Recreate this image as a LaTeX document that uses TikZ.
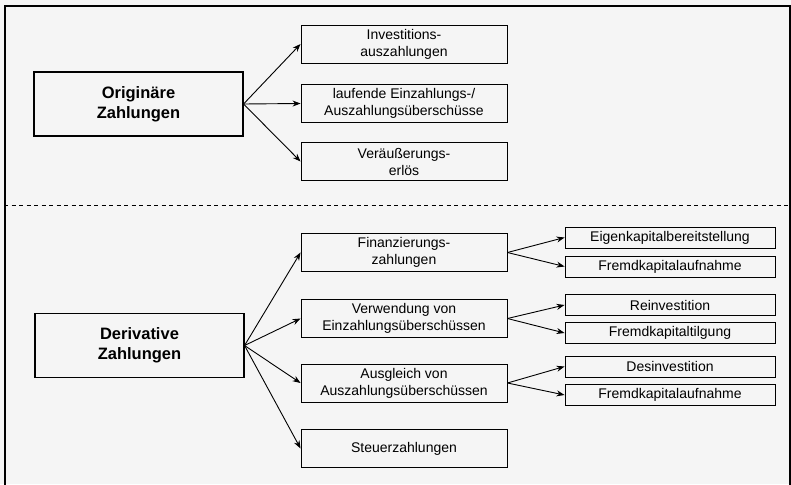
\documentclass[tikz,border=0pt]{standalone}
\usepackage{fontspec}
\setmainfont{Liberation Sans}
\usetikzlibrary{arrows.meta, positioning}

\begin{document}
\begin{tikzpicture}[x=1pt, y=-1pt, line width=0.9pt, >={Stealth[length=8pt,width=6pt]},
    mainbox/.style={draw, line width=1.1pt, minimum width=209pt, minimum height=64pt, align=center, font=\fontsize{16.5}{20}\selectfont\bfseries},
    midbox/.style={draw, minimum width=206pt, minimum height=38pt, inner sep=1pt, align=center, font=\fontsize{14}{17}\selectfont},
    subbox/.style={draw, minimum width=210pt, minimum height=21pt, inner sep=0pt, font=\fontsize{14}{16}\selectfont}]
    \useasboundingbox (0,0) rectangle (791,484);
    \fill[black!4] (0,0) rectangle (791,484);
    \draw[line width=1.2pt] (5,492) -- (5,6) -- (790,6) -- (790,492);
    \draw[dash pattern=on 4pt off 3.5pt] (4,205) -- (791,205);

    % originaere Zahlungen
    \node[mainbox] (orig) at (138.5,104) {Originäre\\Zahlungen};
    \node[midbox] (inv) at (404,44) {Investitions-\\auszahlungen};
    \node[midbox] (lauf) at (404,103.5) {laufende Einzahlungs-/\\Auszahlungsüberschüsse};
    \node[midbox] (veraeus) at (404,161.5) {Veräußerungs-\\erlös};
    \draw[->] (orig.east) -- (inv.west);
    \draw[->] (orig.east) -- (lauf.west);
    \draw[->] (orig.east) -- (veraeus.west);

    % derivative Zahlungen
    \node[mainbox] (deriv) at (139.5,345.5) {Derivative\\Zahlungen};
    \node[midbox] (fin) at (404,252.5) {Finanzierungs-\\zahlungen};
    \node[midbox] (verw) at (404,318.5) {Verwendung von\\Einzahlungsüberschüssen};
    \node[midbox] (ausgl) at (404,383) {Ausgleich von\\Auszahlungsüberschüssen};
    \node[midbox] (steuer) at (404,448.5) {Steuerzahlungen};
    \draw[->] (deriv.east) -- (fin.west);
    \draw[->] (deriv.east) -- (verw.west);
    \draw[->] (deriv.east) -- (ausgl.west);
    \draw[->] (deriv.east) -- (steuer.west);

    \node[subbox] (ek) at (670,237.5) {Eigenkapitalbereitstellung};
    \node[subbox] (fkauf) at (670,266.5) {Fremdkapitalaufnahme};
    \node[subbox] (rein) at (670,305) {Reinvestition};
    \node[subbox] (fktilg) at (670,333) {Fremdkapitaltilgung};
    \node[subbox] (desinv) at (670,366.5) {Desinvestition};
    \node[subbox] (fkaufb) at (670,395) {Fremdkapitalaufnahme};
    \draw[->] (fin.east) -- (ek.west);
    \draw[->] (fin.east) -- (fkauf.west);
    \draw[->] (verw.east) -- (rein.west);
    \draw[->] (verw.east) -- (fktilg.west);
    \draw[->] (ausgl.east) -- (desinv.west);
    \draw[->] (ausgl.east) -- (fkaufb.west);
\end{tikzpicture}
\end{document}
